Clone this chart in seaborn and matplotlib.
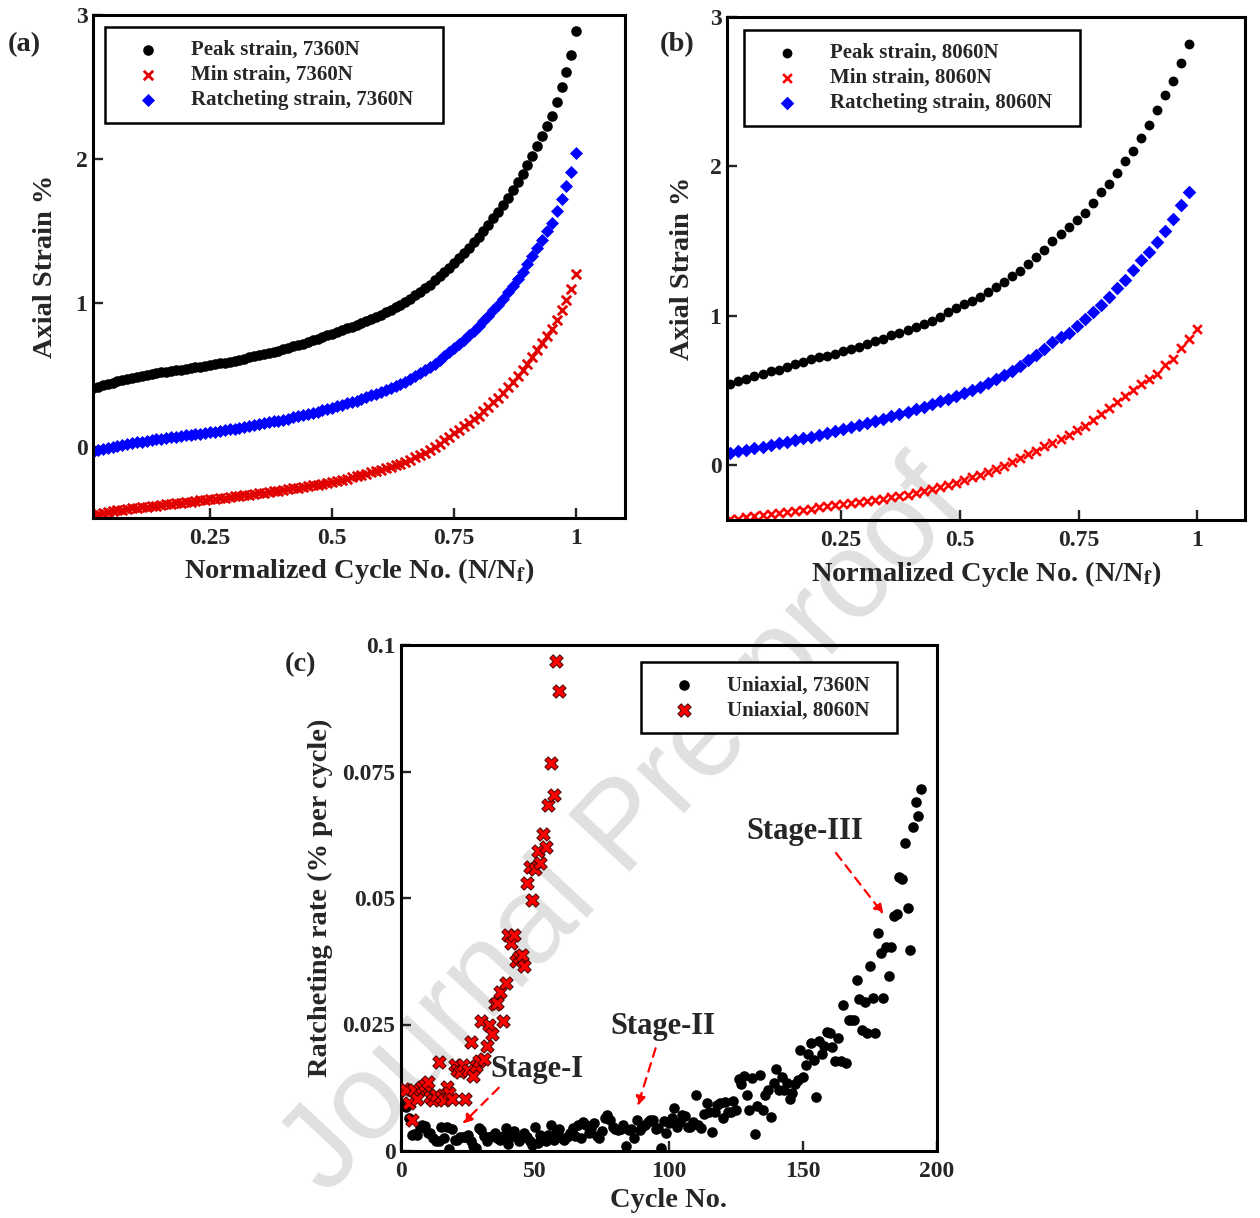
import numpy as np
import matplotlib
matplotlib.use("Agg")
import matplotlib.pyplot as plt
import seaborn as sns
from matplotlib.ticker import FuncFormatter, FixedLocator

# ---------------- data ----------------
# Panel (a): 7360 N, normalized cycle 0.01 ... 1.00
norm_cycle_a = np.round(np.arange(1, 101) / 100, 2)
peak_a = [0.410, 0.420, 0.430, 0.440, 0.450, 0.458, 0.466, 0.474, 0.482, 0.490,
          0.496, 0.502, 0.508, 0.514, 0.520, 0.525, 0.530, 0.535, 0.540, 0.545,
          0.550, 0.555, 0.560, 0.565, 0.570, 0.576, 0.582, 0.588, 0.594, 0.600,
          0.608, 0.616, 0.624, 0.632, 0.640, 0.648, 0.656, 0.664, 0.672, 0.680,
          0.690, 0.700, 0.710, 0.720, 0.730, 0.742, 0.754, 0.766, 0.778, 0.790,
          0.802, 0.814, 0.826, 0.838, 0.850, 0.864, 0.878, 0.892, 0.906, 0.920,
          0.937, 0.954, 0.972, 0.990, 1.010, 1.032, 1.055, 1.080, 1.105, 1.130,
          1.158, 1.187, 1.217, 1.248, 1.280, 1.314, 1.349, 1.385, 1.422, 1.460,
          1.502, 1.545, 1.589, 1.634, 1.680, 1.733, 1.787, 1.842, 1.900, 1.960,
          2.024, 2.090, 2.158, 2.228, 2.300, 2.395, 2.500, 2.605, 2.720, 2.890]
min_a = [-0.470, -0.462, -0.455, -0.447, -0.440, -0.436, -0.432, -0.428, -0.424, -0.420,
         -0.416, -0.412, -0.408, -0.404, -0.400, -0.396, -0.392, -0.388, -0.384, -0.380,
         -0.376, -0.372, -0.368, -0.364, -0.360, -0.356, -0.352, -0.348, -0.344, -0.340,
         -0.336, -0.332, -0.328, -0.324, -0.320, -0.315, -0.310, -0.305, -0.300, -0.295,
         -0.290, -0.285, -0.280, -0.275, -0.270, -0.264, -0.258, -0.252, -0.246, -0.240,
         -0.232, -0.224, -0.216, -0.208, -0.200, -0.191, -0.182, -0.173, -0.164, -0.155,
         -0.145, -0.134, -0.123, -0.112, -0.100, -0.085, -0.069, -0.053, -0.037, -0.020,
         0.002, 0.025, 0.049, 0.074, 0.100, 0.123, 0.146, 0.170, 0.195, 0.220,
         0.250, 0.281, 0.313, 0.346, 0.380, 0.418, 0.457, 0.497, 0.538, 0.580,
         0.626, 0.673, 0.721, 0.770, 0.820, 0.885, 0.950, 1.020, 1.100, 1.200]
ratchet_a = [-0.030, -0.021, -0.012, -0.004, 0.005, 0.011, 0.017, 0.023, 0.029, 0.035,
             0.040, 0.045, 0.050, 0.055, 0.060, 0.065, 0.069, 0.074, 0.078, 0.083,
             0.087, 0.092, 0.096, 0.101, 0.105, 0.110, 0.115, 0.120, 0.125, 0.130,
             0.136, 0.142, 0.148, 0.154, 0.160, 0.167, 0.173, 0.180, 0.186, 0.193,
             0.200, 0.208, 0.215, 0.223, 0.230, 0.239, 0.248, 0.257, 0.266, 0.275,
             0.285, 0.295, 0.305, 0.315, 0.325, 0.337, 0.348, 0.360, 0.371, 0.383,
             0.396, 0.410, 0.425, 0.439, 0.455, 0.474, 0.493, 0.514, 0.534, 0.555,
             0.580, 0.606, 0.633, 0.661, 0.690, 0.719, 0.748, 0.778, 0.809, 0.840,
             0.876, 0.913, 0.951, 0.990, 1.030, 1.076, 1.122, 1.170, 1.219, 1.270,
             1.325, 1.382, 1.440, 1.499, 1.560, 1.640, 1.725, 1.813, 1.910, 2.045]

# Panel (b): 8060 N, Nf = 59 cycles
nf_b = 59
peak_b = [0.540, 0.560, 0.578, 0.592, 0.605, 0.625, 0.637, 0.655, 0.673, 0.688,
          0.706, 0.719, 0.732, 0.744, 0.762, 0.775, 0.790, 0.808, 0.828, 0.846,
          0.867, 0.885, 0.905, 0.923, 0.942, 0.966, 0.990, 1.025, 1.050, 1.076,
          1.094, 1.127, 1.155, 1.190, 1.224, 1.267, 1.297, 1.343, 1.389, 1.440,
          1.496, 1.547, 1.593, 1.637, 1.687, 1.751, 1.828, 1.884, 1.955, 2.032,
          2.103, 2.190, 2.274, 2.376, 2.478, 2.572, 2.694, 2.817]
ratchet_b = [0.082, 0.092, 0.102, 0.112, 0.122, 0.133, 0.144, 0.155, 0.166, 0.177,
             0.189, 0.201, 0.213, 0.226, 0.240, 0.254, 0.267, 0.281, 0.295, 0.309,
             0.324, 0.340, 0.356, 0.372, 0.389, 0.407, 0.425, 0.444, 0.464, 0.484,
             0.502, 0.523, 0.546, 0.574, 0.599, 0.630, 0.660, 0.701, 0.737, 0.777,
             0.821, 0.854, 0.885, 0.930, 0.974, 1.025, 1.068, 1.127, 1.185, 1.241,
             1.305, 1.369, 1.428, 1.491, 1.568, 1.644, 1.738, 1.828]
min_b = [-0.365, -0.360, -0.352, -0.345, -0.337, -0.330, -0.322, -0.315, -0.307, -0.300,
         -0.293, -0.286, -0.279, -0.272, -0.265, -0.258, -0.250, -0.242, -0.234, -0.226,
         -0.218, -0.209, -0.200, -0.190, -0.178, -0.165, -0.152, -0.136, -0.120, -0.105,
         -0.084, -0.066, -0.046, -0.028, -0.008, 0.018, 0.043, 0.069, 0.094, 0.125,
         0.145, 0.176, 0.201, 0.235, 0.260, 0.303, 0.342, 0.380, 0.421, 0.464,
         0.502, 0.540, 0.574, 0.609, 0.668, 0.711, 0.783, 0.846, 0.910]
norm_cycle_b_peak = np.arange(1, len(peak_b) + 1) / nf_b
norm_cycle_b_min = np.arange(1, len(min_b) + 1) / nf_b

# Panel (c): ratcheting rate per cycle
rate_7360 = [0.0090, 0.0086, 0.0065, 0.0032, 0.0034, 0.0032, 0.0045, 0.0052, 0.0050, 0.0036,
             0.0036, 0.0025, 0.0019, 0.0020, 0.0047, 0.0025, 0.0047, 0.0004, 0.0043, 0.0022,
             0.0021, 0.0027, 0.0027, 0.0028, 0.0032, 0.0019, 0.0010, 0.0006, 0.0045, 0.0042,
             0.0030, 0.0019, 0.0027, 0.0030, 0.0036, 0.0025, 0.0021, 0.0030, 0.0045, 0.0013,
             0.0030, 0.0039, 0.0028, 0.0019, 0.0025, 0.0036, 0.0027, 0.0019, 0.0012, 0.0047,
             0.0015, 0.0032, 0.0027, 0.0020, 0.0032, 0.0051, 0.0021, 0.0036, 0.0043, 0.0025,
             0.0021, 0.0028, 0.0036, 0.0045, 0.0030, 0.0051, 0.0025, 0.0058, 0.0052, 0.0036,
             0.0045, 0.0056, 0.0030, 0.0025, 0.0040, 0.0065, 0.0071, 0.0062, 0.0048, 0.0043,
             0.0042, 0.0043, 0.0051, 0.0010, 0.0042, 0.0043, 0.0025, 0.0062, 0.0042, 0.0047,
             0.0051, 0.0058, 0.0061, 0.0062, 0.0043, 0.0045, 0.0006, 0.0059, 0.0036, 0.0056,
             0.0065, 0.0084, 0.0048, 0.0058, 0.0071, 0.0069, 0.0047, 0.0048, 0.0058, 0.0110,
             0.0051, 0.0045, 0.0073, 0.0094, 0.0078, 0.0037, 0.0077, 0.0091, 0.0095, 0.0065,
             0.0097, 0.0078, 0.0077, 0.0099, 0.0081, 0.0143, 0.0132, 0.0148, 0.0111, 0.0082,
             0.0144, 0.0034, 0.0089, 0.0151, 0.0082, 0.0111, 0.0121, 0.0067, 0.0135, 0.0162,
             0.0121, 0.0147, 0.0121, 0.0134, 0.0103, 0.0114, 0.0132, 0.0140, 0.0199, 0.0147,
             0.0169, 0.0192, 0.0214, 0.0180, 0.0106, 0.0218, 0.0192, 0.0207, 0.0236, 0.0233,
             0.0206, 0.0177, 0.0223, 0.0177, 0.0288, 0.0173, 0.0259, 0.0259, 0.0259, 0.0337,
             0.0300, 0.0240, 0.0294, 0.0233, 0.0366, 0.0303, 0.0233, 0.0430, 0.0392, 0.0303,
             0.0404, 0.0346, 0.0404, 0.0465, 0.0468, 0.0542, 0.0537, 0.0608, 0.0480, 0.0397,
             0.0641, 0.0690, 0.0662, 0.0715]
rate_8060 = [0.0122, 0.0121, 0.0095, 0.0061, 0.0121, 0.0102, 0.0122, 0.0127, 0.0130, 0.0137,
             0.0107, 0.0101, 0.0110, 0.0176, 0.0106, 0.0101, 0.0126, 0.0114, 0.0102, 0.0170,
             0.0160, 0.0157, 0.0170, 0.0102, 0.0160, 0.0215, 0.0148, 0.0167, 0.0178, 0.0257,
             0.0181, 0.0208, 0.0249, 0.0231, 0.0291, 0.0292, 0.0314, 0.0257, 0.0333, 0.0427,
             0.0412, 0.0427, 0.0376, 0.0384, 0.0387, 0.0366, 0.0529, 0.0562, 0.0497, 0.0557,
             0.0593, 0.0570, 0.0626, 0.0601, 0.0684, 0.0766, 0.0704, 0.0969, 0.0909]
cycles_7360 = np.arange(1, len(rate_7360) + 1)
cycles_8060 = np.arange(1, len(rate_8060) + 1)

# ---------------- style ----------------
sns.set_style("ticks")
plt.rcParams.update({
    "font.family": ["Liberation Serif", "DejaVu Serif"],
    "font.weight": "bold",
    "axes.labelweight": "bold",
    "mathtext.fontset": "stix",
    "axes.linewidth": 2.2,
    "axes.edgecolor": "black",
})

W, H = 1260, 1218
fig = plt.figure(figsize=(W / 100, H / 100), dpi=100)
fig.patch.set_facecolor("white")


def add_axes_px(left, top, right, bottom):
    return fig.add_axes([left / W, 1 - bottom / H, (right - left) / W, (bottom - top) / H])


ax_a = add_axes_px(93, 15, 625, 518)
ax_b = add_axes_px(727, 17, 1245, 520)
ax_c = add_axes_px(401, 645, 937, 1151)

fmt = FuncFormatter(lambda v, p: f"{v:g}")
LABEL_FS = 20.5
TICK_FS = 17

for ax in (ax_a, ax_b, ax_c):
    ax.patch.set_alpha(0)
    ax.tick_params(direction="in", length=7, width=1.7, labelsize=TICK_FS,
                   top=False, right=False)
    ax.tick_params(axis="x", pad=7)
    ax.tick_params(axis="y", pad=4)
    ax.xaxis.set_major_formatter(fmt)
    ax.yaxis.set_major_formatter(fmt)
    for s in ax.spines.values():
        s.set_visible(True)
        s.set_linewidth(2.2)

leg_kw = dict(loc="upper left", mode="expand", fontsize=15, frameon=True,
              fancybox=False, edgecolor="black", framealpha=1, borderpad=0.62,
              labelspacing=0.24, handlelength=2.9, handletextpad=0.6,
              scatterpoints=1, borderaxespad=0)

# ---------------- panel (a) ----------------
sns.scatterplot(x=norm_cycle_a, y=peak_a, marker="o", color="black", s=58,
                linewidth=0, ax=ax_a, legend=False, label="Peak strain, 7360N")
sns.scatterplot(x=norm_cycle_a, y=min_a, marker="x", color="#e00000", edgecolor="#e00000",
                s=46, linewidth=2.0, ax=ax_a, legend=False, label="Min strain, 7360N")
sns.scatterplot(x=norm_cycle_a, y=ratchet_a, marker="D", color="#0000ff", s=44,
                linewidth=0, ax=ax_a, legend=False, label="Ratcheting strain, 7360N")
ax_a.set_xlim(0.01, 1.1)
ax_a.set_ylim(-0.49, 3)
ax_a.xaxis.set_major_locator(FixedLocator([0.25, 0.5, 0.75, 1]))
ax_a.yaxis.set_major_locator(FixedLocator([0, 1, 2, 3]))
ax_a.set_xlabel(r"Normalized Cycle No. (N/N$_\mathbf{f}$)", fontsize=LABEL_FS)
ax_a.set_ylabel("Axial Strain %", fontsize=LABEL_FS)
leg = ax_a.legend(bbox_to_anchor=(0.0226, 0.785, 0.635, 0.191), **leg_kw)
leg.get_frame().set_linewidth(1.8)

# ---------------- panel (b) ----------------
sns.scatterplot(x=norm_cycle_b_peak, y=peak_b, marker="o", color="black", s=50,
                linewidth=0, ax=ax_b, legend=False, label="Peak strain, 8060N")
sns.scatterplot(x=norm_cycle_b_min, y=min_b, marker="x", color="red", edgecolor="red",
                s=40, linewidth=1.9, ax=ax_b, legend=False, label="Min strain, 8060N")
sns.scatterplot(x=norm_cycle_b_peak, y=ratchet_b, marker="D", color="#0000ff", s=48,
                linewidth=0, ax=ax_b, legend=False, label="Ratcheting strain, 8060N")
ax_b.set_xlim(0.01, 1.1)
ax_b.set_ylim(-0.37, 3)
ax_b.xaxis.set_major_locator(FixedLocator([0.25, 0.5, 0.75, 1]))
ax_b.yaxis.set_major_locator(FixedLocator([0, 1, 2, 3]))
ax_b.set_xlabel(r"Normalized Cycle No. (N/N$_\mathbf{f}$)", fontsize=LABEL_FS)
ax_b.set_ylabel("Axial Strain %", fontsize=LABEL_FS)
leg = ax_b.legend(bbox_to_anchor=(0.0328, 0.783, 0.649, 0.191), **leg_kw)
leg.get_frame().set_linewidth(1.8)

# ---------------- panel (c) ----------------
sns.scatterplot(x=cycles_7360, y=rate_7360, marker="o", color="black", s=58,
                linewidth=0, ax=ax_c, legend=False, label="Uniaxial, 7360N", zorder=2)
sns.scatterplot(x=cycles_8060, y=rate_8060, marker="X", color="red", edgecolor="#400000",
                s=92, linewidth=0.7, ax=ax_c, legend=False, label="Uniaxial, 8060N", zorder=3)
ax_c.set_xlim(0, 200)
ax_c.set_ylim(0, 0.1)
ax_c.xaxis.set_major_locator(FixedLocator([0, 50, 100, 150, 200]))
ax_c.yaxis.set_major_locator(FixedLocator([0, 0.025, 0.05, 0.075, 0.1]))
ax_c.set_xlabel("Cycle No.", fontsize=LABEL_FS)
ax_c.set_ylabel("Ratcheting rate (% per cycle)", fontsize=LABEL_FS)
leg = ax_c.legend(bbox_to_anchor=(0.448, 0.822, 0.477, 0.144), **leg_kw)
leg.get_frame().set_linewidth(1.8)

arrow_kw = dict(arrowstyle="-|>", color="red", lw=1.6, linestyle=(0, (4, 3)),
                mutation_scale=14, shrinkA=0, shrinkB=0)
STAGE_FS = 22
ax_c.text(33.5, 0.0162, "Stage-I", fontsize=STAGE_FS, ha="left", va="center")
ax_c.annotate("", xy=(23, 0.0054), xytext=(36.5, 0.0125), arrowprops=arrow_kw)
ax_c.text(78, 0.0246, "Stage-II", fontsize=STAGE_FS, ha="left", va="center")
ax_c.annotate("", xy=(88.3, 0.0089), xytext=(95, 0.0203), arrowprops=arrow_kw)
ax_c.text(129, 0.0632, "Stage-III", fontsize=STAGE_FS, ha="left", va="center")
ax_c.annotate("", xy=(180, 0.0468), xytext=(162.3, 0.0589), arrowprops=arrow_kw)

# axis label placement
for ax, yx, xy in ((ax_a, -0.090, -0.105), (ax_b, -0.085, -0.107), (ax_c, -0.151, -0.097)):
    ax.yaxis.set_label_coords(yx, 0.5)
    ax.xaxis.set_label_coords(0.5, xy)
    ax.yaxis.label.set_va("center")
    ax.xaxis.label.set_va("center")

# panel letters
fig.text(8 / W, 1 - 45 / H, "(a)", fontsize=20.5, ha="left", va="center")
fig.text(660 / W, 1 - 45 / H, "(b)", fontsize=20.5, ha="left", va="center")
fig.text(285 / W, 1 - 665 / H, "(c)", fontsize=20.5, ha="left", va="center")

# watermark
fig.text(625 / W, 1 - 830 / H, "Journal Pre-proof", fontsize=88, rotation=47,
         family="Liberation Sans", weight="normal", color="#e0e0e0",
         ha="center", va="center", zorder=-1)

fig.savefig("out.png", dpi=100, facecolor="white")
